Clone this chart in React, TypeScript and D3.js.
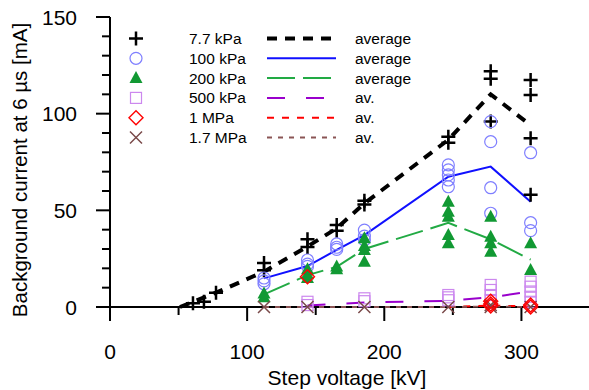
import React from "react";
import * as d3 from "d3";

// ---------- data ----------
const seriesNames = ["7.7 kPa", "100 kPa", "200 kPa", "500 kPa", "1 MPa", "1.7 MPa"];
const avgLabels = ["average", "average", "average", "av.", "av.", "av."];

const kPa7X = [60.5, 68.5, 77.3, 112.3, 112.3, 144, 144, 165.3, 165.3, 185.5, 185.5, 246.7, 246.7, 277.6, 277.6, 277.6, 306.7, 306.7, 306.7, 306.7];
const kPa7Y = [2, 2.7, 7.4, 19, 22.7, 31, 35, 39.5, 42.4, 53, 55, 85, 88, 96, 118, 122, 58, 87.3, 109.7, 117.4];
const kPa7AvgX = [51, 77.3, 112.3, 144, 165.3, 185.5, 246.7, 277.6, 306.7];
const kPa7AvgY = [0, 7.4, 18.3, 31.3, 40.7, 53.6, 86.5, 110, 94];

const kPa100X = [112.3, 112.3, 112.3, 144, 144, 144, 165.3, 165.3, 165.3, 185.5, 185.5, 185.5, 246.7, 246.7, 246.7, 246.7, 246.7, 277.6, 277.6, 277.6, 277.6, 306.7, 306.7, 306.7];
const kPa100Y = [12, 13.5, 15, 21, 22.2, 24.3, 29.8, 30.9, 32.6, 34.7, 36.7, 39.8, 62.2, 65.7, 68.3, 70.9, 73.5, 48.5, 61.7, 85.5, 95.9, 39.5, 43.6, 79.8];
const kPa100AvgX = [112.3, 144, 165.3, 185.5, 246.7, 277.6, 306.7];
const kPa100AvgY = [14.8, 21.2, 29.5, 37.2, 67.4, 72.6, 54.5];

const kPa200X = [112.3, 112.3, 144, 144, 144, 165.3, 165.3, 185.5, 185.5, 185.5, 185.5, 246.7, 246.7, 246.7, 246.7, 246.7, 277.6, 277.6, 277.6, 277.6, 306.7, 306.7];
const kPa200Y = [5, 7, 15, 17, 19.5, 19.5, 21, 23.4, 29.5, 31.5, 35.5, 33, 37.2, 46.7, 49.3, 54.5, 28.6, 33, 36.4, 46.7, 19.1, 33];
const kPa200AvgX = [112.3, 144, 165.3, 185.5, 246.7, 277.6, 306.7];
const kPa200AvgY = [6.5, 16.5, 20.8, 30, 43.5, 35, 24.5];

const kPa500X = [144, 144, 185.5, 185.5, 246.7, 246.7, 246.7, 277.6, 277.6, 277.6, 277.6, 306.7, 306.7, 306.7, 306.7, 306.7];
const kPa500Y = [1, 2.7, 3, 4.5, 3.5, 5, 6.2, 3.6, 6.2, 8.8, 11.4, 2.7, 5.3, 8, 10.5, 13.1];
const kPa500AvgX = [144, 185.5, 246.7, 277.6, 306.7];
const kPa500AvgY = [0.8, 2.3, 3.2, 5, 8];

const mPa1X = [144, 277.6, 277.6, 277.6, 306.7, 306.7];
const mPa1Y = [15.7, 0.5, 1.5, 3, 0, 1];
const mPa1AvgX = [246.7, 277.6, 306.7];
const mPa1AvgY = [0, 0.8, 0.3];

const mPa17X = [112.3, 144, 185.5, 246.7, 277.6, 277.6, 306.7];
const mPa17Y = [0, 0, 0, 0, 0, 1, 0];
const mPa17AvgX = [112.3, 144, 185.5, 246.7, 277.6, 306.7];
const mPa17AvgY = [0, 0, 0, 0, 0.3, 0];

const xMajorTicks = [0, 100, 200, 300];
const xMinorTicks = [50, 150, 250];
const yMajorTicks = [0, 50, 100, 150];
const yMinorTicks = [10, 20, 30, 40, 60, 70, 80, 90, 110, 120, 130, 140];

// ---------- styles ----------
const FONT = "'Liberation Sans', Arial, sans-serif";
type Marker = "plus" | "circle" | "triangle" | "square" | "diamond" | "cross";
const series = [
  { name: seriesNames[0], xs: kPa7X, ys: kPa7Y, ax: kPa7AvgX, ay: kPa7AvgY, marker: "plus" as Marker, mColor: "#000000", lColor: "#000000", lw: 4, dash: "10,8" },
  { name: seriesNames[1], xs: kPa100X, ys: kPa100Y, ax: kPa100AvgX, ay: kPa100AvgY, marker: "circle" as Marker, mColor: "#7f7fff", lColor: "#1010ff", lw: 2, dash: "" },
  { name: seriesNames[2], xs: kPa200X, ys: kPa200Y, ax: kPa200AvgX, ay: kPa200AvgY, marker: "triangle" as Marker, mColor: "#119933", lColor: "#22aa44", lw: 2, dash: "28,8" },
  { name: seriesNames[3], xs: kPa500X, ys: kPa500Y, ax: kPa500AvgX, ay: kPa500AvgY, marker: "square" as Marker, mColor: "#cc88ee", lColor: "#9900cc", lw: 2, dash: "18,21" },
  { name: seriesNames[4], xs: mPa1X, ys: mPa1Y, ax: mPa1AvgX, ay: mPa1AvgY, marker: "diamond" as Marker, mColor: "#ff0000", lColor: "#ff0000", lw: 2, dash: "7,8" },
  { name: seriesNames[5], xs: mPa17X, ys: mPa17Y, ax: mPa17AvgX, ay: mPa17AvgY, marker: "cross" as Marker, mColor: "#7a4a4a", lColor: "#8a5555", lw: 1.8, dash: "5,6" },
];

function markerEl(type: Marker, cx: number, cy: number, color: string, key: string) {
  switch (type) {
    case "plus":
      return <path key={key} d={`M${cx - 7},${cy}H${cx + 7}M${cx},${cy - 7}V${cy + 7}`} stroke={color} strokeWidth={2.5} fill="none" />;
    case "circle":
      return <circle key={key} cx={cx} cy={cy} r={6} stroke={color} strokeWidth={1.2} fill="none" />;
    case "triangle":
      return <path key={key} d={`M${cx},${cy - 7}L${cx + 6.5},${cy + 5}L${cx - 6.5},${cy + 5}Z`} fill={color} stroke="none" />;
    case "square":
      return <rect key={key} x={cx - 5.5} y={cy - 5.5} width={11} height={11} stroke={color} strokeWidth={1.2} fill="none" />;
    case "diamond":
      return <path key={key} d={`M${cx},${cy - 7}L${cx + 7},${cy}L${cx},${cy + 7}L${cx - 7},${cy}Z`} stroke={color} strokeWidth={1.4} fill="none" />;
    case "cross":
      return <path key={key} d={`M${cx - 6},${cy - 6}L${cx + 6},${cy + 6}M${cx - 6},${cy + 6}L${cx + 6},${cy - 6}`} stroke={color} strokeWidth={1.5} fill="none" />;
  }
}

export default function App() {
  const W = 589, H = 390;
  const x = d3.scaleLinear().domain([0, 350]).range([110, 590]);
  const y = d3.scaleLinear().domain([0, 150]).range([307, 17]);
  const line = d3.line<[number, number]>().x(d => x(d[0])).y(d => y(d[1]));

  const legX = 136, legY0 = 38.5, legDy = 19.8;
  const markerOrder = [0, 1, 2, 3, 5, 4];

  return (
    <svg width={W} height={H} style={{ position: "absolute", left: 0, top: 0, background: "#fff" }} fontFamily={FONT}>
      {/* axes */}
      <line x1={x(0)} x2={x(0)} y1={y(150)} y2={y(0) + 14} stroke="#000" strokeWidth={2} />
      <line x1={x(0) - 14} x2={x(350)} y1={y(0)} y2={y(0)} stroke="#000" strokeWidth={2} />
      {yMajorTicks.map(t => (
        <g key={"ym" + t}>
          <line x1={x(0) - 14} x2={x(0)} y1={y(t)} y2={y(t)} stroke="#000" strokeWidth={2} />
          <text x={77} y={y(t) + 7.5} fontSize={21} textAnchor="end" fill="#000">{t}</text>
        </g>
      ))}
      {yMinorTicks.map(t => (
        <line key={"yn" + t} x1={x(0) - 8} x2={x(0)} y1={y(t)} y2={y(t)} stroke="#000" strokeWidth={2} />
      ))}
      {xMajorTicks.map(t => (
        <g key={"xm" + t}>
          <line x1={x(t)} x2={x(t)} y1={y(0)} y2={y(0) + 14} stroke="#000" strokeWidth={2} />
          <text x={x(t)} y={359} fontSize={21} textAnchor="middle" fill="#000">{t}</text>
        </g>
      ))}
      {xMinorTicks.map(t => (
        <line key={"xn" + t} x1={x(t)} x2={x(t)} y1={y(0)} y2={y(0) + 8} stroke="#000" strokeWidth={2} />
      ))}
      <text x={347} y={385} fontSize={21} textAnchor="middle" fill="#000">Step voltage [kV]</text>
      <text transform={`translate(27,170) rotate(-90)`} fontSize={20.5} textAnchor="middle" fill="#000">Background current at 6 µs [mA]</text>

      {/* average lines */}
      {series.map((s, i) => (
        <path key={"l" + i} d={line(s.ax.map((v, j) => [v, s.ay[j]] as [number, number])) || ""}
          stroke={s.lColor} strokeWidth={s.lw} fill="none" strokeDasharray={s.dash || undefined} />
      ))}

      {/* markers */}
      {markerOrder.map(i => {
        const s = series[i];
        return <g key={"m" + i}>{s.xs.map((v, j) => markerEl(s.marker, x(v), y(s.ys[j]), s.mColor, `m${i}-${j}`))}</g>;
      })}

      {/* legend */}
      {series.map((s, i) => {
        const ly = legY0 + i * legDy;
        return (
          <g key={"lg" + i}>
            {markerEl(s.marker, legX, ly, s.mColor, "lgm" + i)}
            <text x={189} y={ly + 5.5} fontSize={15.5} fill="#000">{s.name}</text>
            <line x1={267} x2={336} y1={ly} y2={ly} stroke={s.lColor} strokeWidth={s.lw} strokeDasharray={s.dash || undefined} />
            <text x={355} y={ly + 5.5} fontSize={15.5} fill="#000">{avgLabels[i]}</text>
          </g>
        );
      })}
    </svg>
  );
}
